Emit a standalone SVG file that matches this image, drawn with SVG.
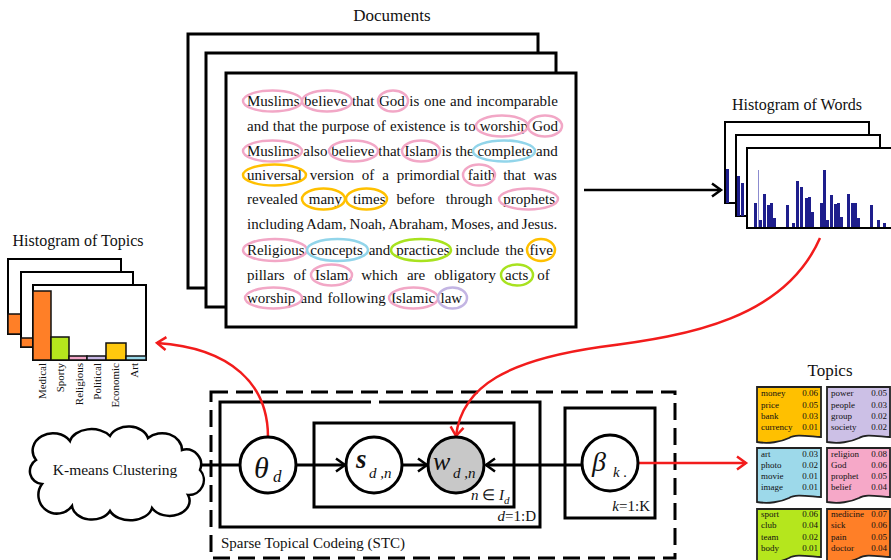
<svg xmlns="http://www.w3.org/2000/svg" width="891" height="560" viewBox="0 0 891 560">
<defs>
<style>
.t{font-family:"Liberation Serif","Times New Roman",serif;fill:#111}
.doc{font-size:15px}
.frame{fill:#fff;stroke:#000;stroke-width:3}
.hframe{fill:#fff;stroke:#000;stroke-width:2}
.el{fill:none;stroke-width:2.5}
.pk{stroke:#F2A7C6}.og{stroke:#FFC000}.cy{stroke:#92D5EA}.gr{stroke:#A8E21F}.pu{stroke:#C3B5E3}
.bar{fill:#1E1E8C}
.node{fill:#fff;stroke:#000;stroke-width:3}
.line{fill:none;stroke:#000;stroke-width:3}
.red{fill:none;stroke:#F21C1C;stroke-width:2.5}
.card{stroke:#222;stroke-width:1.8}
.ct{font-size:9px}
.tb{stroke:#111;stroke-width:1.5}
</style>
<marker id="ab" markerUnits="userSpaceOnUse" markerWidth="14" markerHeight="16" refX="11" refY="8" orient="auto"><path d="M2,1.5 L11,8 L2,14.5" fill="none" stroke="#000" stroke-width="2.5"/></marker>
<marker id="ar" markerUnits="userSpaceOnUse" markerWidth="14" markerHeight="16" refX="11" refY="8" orient="auto"><path d="M2,1.5 L11,8 L2,14.5" fill="none" stroke="#F21C1C" stroke-width="2.5"/></marker>
</defs>

<rect width="891" height="560" fill="#fff"/>

<!-- Documents -->
<g id="documents">
<text class="t" x="392" y="21" font-size="17" text-anchor="middle">Documents</text>
<rect class="frame" x="188" y="34" width="350" height="254"/>
<rect class="frame" x="206" y="53" width="350" height="254"/>
<rect class="frame" x="226" y="73" width="350" height="254"/>
<g class="t doc">
<text x="247" y="106" word-spacing="0.8">Muslims believe that God is one and incomparable</text>
<text x="247" y="131" word-spacing="0.35">and that the purpose of existence is to worship God</text>
<text x="247" y="156">Muslims also believe that Islam is the complete and</text>
<text x="247" y="180" word-spacing="4.1">universal version of a primordial faith that was</text>
<text x="247" y="204" word-spacing="7.2">revealed many times before through prophets</text>
<text x="247" y="229" word-spacing="-0.57">including Adam, Noah, Abraham, Moses, and Jesus.</text>
<text x="247" y="255" word-spacing="2.1">Religious concepts and practices include the five</text>
<text x="247" y="280" word-spacing="5.3">pillars of Islam, which are obligatory acts of</text>
<text x="247" y="303" word-spacing="1.5">worship and following Islamic law</text>
</g>
<g>
<ellipse class="el pk" cx="272.5" cy="101" rx="29.5" ry="10.5"/>
<ellipse class="el pk" cx="327" cy="101" rx="25" ry="10.5"/>
<ellipse class="el pk" cx="393" cy="101" rx="15" ry="10.5"/>
<ellipse class="el pk" cx="502" cy="126" rx="26" ry="10.5"/>
<ellipse class="el pk" cx="545" cy="126" rx="17" ry="10.5"/>
<ellipse class="el pk" cx="272.5" cy="151" rx="29.5" ry="10.5"/>
<ellipse class="el pk" cx="353.5" cy="151" rx="24.5" ry="10.5"/>
<ellipse class="el pk" cx="421" cy="151" rx="19" ry="10.5"/>
<ellipse class="el cy" cx="504" cy="151" rx="31" ry="10.5"/>
<ellipse class="el og" cx="274.5" cy="175" rx="31.5" ry="10.5"/>
<ellipse class="el pk" cx="479" cy="175" rx="16" ry="10.5"/>
<ellipse class="el og" cx="323.5" cy="199" rx="21.5" ry="10.5"/>
<ellipse class="el og" cx="366.5" cy="199" rx="20.5" ry="10.5"/>
<ellipse class="el pk" cx="528.5" cy="199" rx="29.5" ry="10.5"/>
<ellipse class="el pk" cx="275" cy="250" rx="32" ry="11"/>
<ellipse class="el cy" cx="337.5" cy="250" rx="30.5" ry="11"/>
<ellipse class="el gr" cx="421" cy="250" rx="30" ry="11"/>
<ellipse class="el og" cx="541" cy="250" rx="14" ry="11"/>
<ellipse class="el pk" cx="331.5" cy="275" rx="20.5" ry="10.5"/>
<ellipse class="el gr" cx="517" cy="275" rx="16" ry="10.5"/>
<ellipse class="el pk" cx="273.5" cy="298" rx="28.5" ry="10.5"/>
<ellipse class="el pk" cx="413.5" cy="298" rx="24.5" ry="10.5"/>
<ellipse class="el pu" cx="452.5" cy="298" rx="14.5" ry="10.5"/>
</g>
</g>

<!-- Histogram of Words -->
<g id="histogram-words">
<text class="t" x="797" y="110" font-size="16" text-anchor="middle">Histogram of Words</text>
<rect class="hframe" x="725" y="122" width="144" height="81"/>
<rect class="bar" x="726" y="169" width="3" height="34"/>
<rect class="hframe" x="736" y="135" width="144" height="81"/>
<rect class="bar" x="737" y="176" width="3" height="40"/>
<rect class="bar" x="741" y="183" width="3" height="33"/>
<rect class="hframe" x="747" y="148" width="160" height="80"/>
<g class="bar">
<rect x="754" y="203" width="3" height="25"/>
<rect x="758" y="170" width="1" height="58" fill="#8C8CD0"/>
<rect x="759" y="220" width="3" height="8"/>
<rect x="763" y="194" width="3" height="34"/>
<rect x="767" y="205" width="3" height="23"/>
<rect x="770" y="203" width="3" height="25"/>
<rect x="773" y="218" width="3" height="10"/>
<rect x="786" y="205" width="3" height="23"/>
<rect x="792" y="223" width="3" height="5"/>
<rect x="796" y="181" width="3" height="47"/>
<rect x="800" y="187" width="3" height="41"/>
<rect x="805" y="198" width="3" height="30"/>
<rect x="808" y="197" width="3" height="31"/>
<rect x="811" y="212" width="3" height="16"/>
<rect x="820" y="203" width="3" height="25"/>
<rect x="823" y="170" width="3" height="58"/>
<rect x="826" y="220" width="3" height="8"/>
<rect x="830" y="195" width="3" height="33"/>
<rect x="834" y="204" width="3" height="24"/>
<rect x="837" y="203" width="3" height="25"/>
<rect x="840" y="217" width="3" height="11"/>
<rect x="847" y="194" width="3" height="34"/>
<rect x="851" y="203" width="3" height="25"/>
<rect x="854" y="203" width="3" height="25"/>
<rect x="857" y="218" width="3" height="10"/>
<rect x="870" y="205" width="3" height="23"/>
<rect x="877" y="220" width="3" height="8"/>
<rect x="883" y="223" width="3" height="5"/>
</g>
<line x1="747" y1="228" x2="891" y2="228" stroke="#000" stroke-width="2"/>
</g>

<!-- Histogram of Topics -->
<g id="histogram-topics">
<text class="t" x="78" y="246" font-size="16" text-anchor="middle">Histogram of Topics</text>
<rect class="hframe" x="8" y="259" width="113" height="75"/>
<rect class="tb" x="8" y="314" width="13" height="20" fill="#FF7F27"/>
<rect class="hframe" x="21" y="272" width="112" height="75"/>
<rect class="tb" x="21" y="338" width="12" height="9" fill="#FF7F27"/>
<rect class="hframe" x="33" y="285" width="113" height="75"/>
<rect class="tb" x="33" y="291" width="18" height="69" fill="#FF7F27"/>
<rect class="tb" x="51" y="337" width="18" height="23" fill="#B5E61D"/>
<rect class="tb" x="69" y="356" width="18" height="4" fill="#F4A6C8"/>
<rect class="tb" x="87" y="356" width="19" height="4" fill="#C8B8E6"/>
<rect class="tb" x="106" y="343" width="20" height="17" fill="#FFC90E"/>
<rect class="tb" x="126" y="356" width="20" height="4" fill="#99D9EA"/>
<g class="t" font-size="11" text-anchor="end">
<text transform="translate(46,363) rotate(-90)">Medical</text>
<text transform="translate(64,363) rotate(-90)">Sporty</text>
<text transform="translate(83,363) rotate(-90)">Religious</text>
<text transform="translate(101,363) rotate(-90)">Political</text>
<text transform="translate(119,363) rotate(-90)">Economic</text>
<text transform="translate(138,363) rotate(-90)">Art</text>
</g>
</g>

<!-- STC plate -->
<g id="stc">
<rect x="211" y="392" width="464" height="166" fill="none" stroke="#000" stroke-width="3" stroke-dasharray="17 8"/>
<path class="line" d="M371,402 H220 V527 H540 V402 H379"/>
<rect class="line" x="314" y="423" width="200" height="84"/>
<rect class="line" x="565" y="408" width="90" height="110"/>
<text class="t" x="221" y="548" font-size="15">Sparse Topical Codeing (STC)</text>
<text class="t" x="536" y="521" font-size="15" text-anchor="end"><tspan font-style="italic">d</tspan>=1:D</text>
<text class="t" x="471" y="500" font-size="15"><tspan font-style="italic">n</tspan> ∈ <tspan font-style="italic">I</tspan><tspan font-style="italic" font-size="11" dy="4">d</tspan></text>
<text class="t" x="650" y="511" font-size="15" text-anchor="end"><tspan font-style="italic">k</tspan>=1:K</text>
</g>

<!-- K-means cloud -->
<g id="kmeans">
<path d="M42,484 A13,13 0 0 1 36,460 A20,17 0 0 1 70,441 A22,15 0 0 1 110,436 A20,15 0 0 1 148,438 A20,17 0 0 1 182,450 A15,15 0 0 1 200,470 A15,15 0 0 1 188,495 A20,15 0 0 1 152,508 A22,15 0 0 1 110,511 A20,15 0 0 1 72,506 A15,15 0 0 1 42,484 Z" fill="#fff" stroke="#000" stroke-width="2.5"/>
<text class="t" x="115" y="475" font-size="15.5" text-anchor="middle">K-means Clustering</text>
</g>

<!-- Connectors -->
<g id="connectors">
<line x1="584" y1="190" x2="721" y2="190" stroke="#000" stroke-width="2.5" marker-end="url(#ab)"/>
<line class="line" x1="200" y1="465" x2="240" y2="465"/>
<line class="line" x1="296" y1="465" x2="345" y2="465" marker-end="url(#ab)"/>
<line class="line" x1="402" y1="465" x2="427" y2="465" marker-end="url(#ab)"/>
<line class="line" x1="582" y1="465" x2="486" y2="465" marker-end="url(#ab)"/>
<path class="red" d="M268,437 C268,385 232,348 157,343" marker-end="url(#ar)"/>
<path class="red" d="M820,238 C785,318 690,336 600,347 C510,360 462,385 456,436" marker-end="url(#ar)"/>
<line class="red" x1="639" y1="463" x2="746" y2="463" marker-end="url(#ar)"/>
</g>

<!-- Nodes -->
<g id="theta">
<circle class="node" cx="268" cy="465" r="28"/>
<text class="t" x="254" y="478" font-size="30" font-style="italic">θ</text>
<text class="t" x="273" y="482" font-size="17" font-style="italic">d</text>
</g>
<g id="s">
<circle class="node" cx="374" cy="465" r="28"/>
<text class="t" x="356" y="468" font-size="27" font-style="italic" font-weight="bold">s</text>
<text class="t" x="369" y="478" font-size="15" font-style="italic">d ,n</text>
</g>
<g id="w">
<circle cx="456" cy="465" r="28" fill="#C8C8C8" stroke="#000" stroke-width="3"/>
<text class="t" x="433" y="470" font-size="26" font-style="italic">w</text>
<text class="t" x="453" y="478" font-size="15" font-style="italic">d ,n</text>
</g>
<g id="beta">
<circle class="node" cx="610" cy="463" r="28"/>
<text class="t" x="592" y="471" font-size="28" font-style="italic">β</text>
<text class="t" x="613" y="477" font-size="15" font-style="italic">k .</text>
</g>

<!-- Topics -->
<g id="topics">
<text class="t" x="830" y="376" font-size="17" text-anchor="middle">Topics</text>
<g id="topic-economy">
<path class="card" fill="#FFC000" d="M757,387 H821 V437 C806,436 795,434 789,438 C781,442 768,444 757,442 Z"/>
<g class="t ct"><text x="761" y="396">money</text><text x="761" y="408">price</text><text x="761" y="419">bank</text><text x="761" y="430">currency</text></g>
<g class="t ct" text-anchor="end"><text x="818" y="396">0.06</text><text x="818" y="408">0.05</text><text x="818" y="419">0.03</text><text x="818" y="430">0.01</text></g>
</g>
<g id="topic-politics">
<path class="card" fill="#CCC0E6" d="M827,387 H890 V437 C875,436 865,434 859,438 C851,442 838,444 827,442 Z"/>
<g class="t ct"><text x="831" y="396">power</text><text x="831" y="408">people</text><text x="831" y="419">group</text><text x="831" y="430">society</text></g>
<g class="t ct" text-anchor="end"><text x="887" y="396">0.05</text><text x="887" y="408">0.03</text><text x="887" y="419">0.02</text><text x="887" y="430">0.02</text></g>
</g>
<g id="topic-art">
<path class="card" fill="#9DD9EA" d="M757,448 H821 V497 C806,496 795,494 789,498 C781,502 768,504 757,502 Z"/>
<g class="t ct"><text x="761" y="457">art</text><text x="761" y="468">photo</text><text x="761" y="479">movie</text><text x="761" y="490">image</text></g>
<g class="t ct" text-anchor="end"><text x="818" y="457">0.03</text><text x="818" y="468">0.02</text><text x="818" y="479">0.01</text><text x="818" y="490">0.01</text></g>
</g>
<g id="topic-religion">
<path class="card" fill="#F6A8C8" d="M827,448 H890 V497 C875,496 865,494 859,498 C851,502 838,504 827,502 Z"/>
<g class="t ct"><text x="831" y="457">religion</text><text x="831" y="468">God</text><text x="831" y="479">prophet</text><text x="831" y="490">belief</text></g>
<g class="t ct" text-anchor="end"><text x="887" y="457">0.08</text><text x="887" y="468">0.06</text><text x="887" y="479">0.05</text><text x="887" y="490">0.04</text></g>
</g>
<g id="topic-sport">
<path class="card" fill="#B5E61D" d="M757,509 H821 V557 C806,556 795,554 789,558 C781,562 768,564 757,562 Z"/>
<g class="t ct"><text x="761" y="517">sport</text><text x="761" y="528">club</text><text x="761" y="540">team</text><text x="761" y="551">body</text></g>
<g class="t ct" text-anchor="end"><text x="818" y="517">0.06</text><text x="818" y="528">0.04</text><text x="818" y="540">0.02</text><text x="818" y="551">0.01</text></g>
</g>
<g id="topic-medicine">
<path class="card" fill="#FF7F27" d="M827,509 H890 V557 C875,556 865,554 859,558 C851,562 838,564 827,562 Z"/>
<g class="t ct"><text x="831" y="517">medicine</text><text x="831" y="528">sick</text><text x="831" y="540">pain</text><text x="831" y="551">doctor</text></g>
<g class="t ct" text-anchor="end"><text x="887" y="517">0.07</text><text x="887" y="528">0.06</text><text x="887" y="540">0.05</text><text x="887" y="551">0.04</text></g>
</g>
</g>
</svg>
